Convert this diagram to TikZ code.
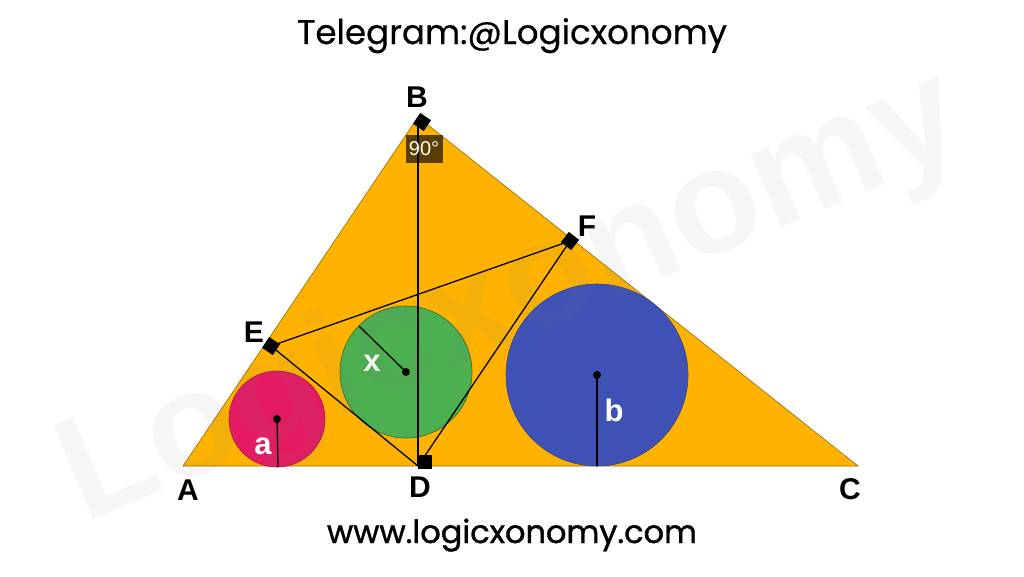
\documentclass[tikz,border=0pt]{standalone}
\usepackage{fontspec}
\setmainfont{Liberation Sans}
\newfontfamily\titrefont{Poppins}[FakeBold=0.5]
\newfontfamily\sitefont{Poppins}[FakeBold=1.2]
\usepackage{xcolor}
\usepackage{tikz}
\usetikzlibrary{calc}
\definecolor{orangeT}{RGB}{255,179,0}
\definecolor{bordT}{RGB}{150,105,0}
\definecolor{roseC}{RGB}{228,27,98}
\definecolor{vertC}{RGB}{76,175,80}
\definecolor{bleuC}{RGB}{63,81,181}
\tikzset{
	sommet/.style={font=\bfseries\fontsize{30}{30}\selectfont,text=black},
	rayon/.style={font=\bfseries\fontsize{31}{31}\selectfont,text=white},
	angdroit/.style={fill=black,inner sep=0pt,minimum size=13pt},
	trait/.style={line width=1.3pt,black},
	cercle/.style={line width=0.6pt}
}

\begin{document}
\begin{tikzpicture}[x=1pt,y=-1pt]
\useasboundingbox (0,0) rectangle (1024,576); % taille de l'image

%Sommets du triangle
\coordinate (A) at (183,466);
\coordinate (B) at (418,117);
\coordinate (C) at (858,466);
\coordinate (D) at (418,466);
%pieds des perpendiculaires
\coordinate (E) at (271,346);
\coordinate (F) at (570,241);

%centres et rayons
\coordinate (Oa) at (277,419);
\coordinate (Ta) at (278,467);
\coordinate (Ox) at (406,372);
\coordinate (Tx) at (359,326);
\coordinate (Ob) at (597,375);
\coordinate (Tb) at (597,466);

%Triangle
\filldraw[fill=orangeT,draw=bordT,line width=0.6pt] (A) -- (B) -- (C) -- cycle;

%Cercles
\filldraw[cercle,fill=roseC,draw=roseC!75!black] (Oa) circle (48);
\filldraw[cercle,fill=vertC,draw=vertC!60!black] (Ox) circle (66);
\filldraw[cercle,fill=bleuC,draw=bleuC!80!black] (Ob) circle (91);

%Segments
\draw[trait] (B) -- (D);
\draw[trait] (E) -- (F);
\draw[trait] (E) -- (D);
\draw[trait] (D) -- (F);

%Rayons
\draw[trait] (Oa) -- (Ta);
\draw[trait] (Ox) -- (Tx);
\draw[trait] (Ob) -- (Tb);
\fill (Oa) circle (4);
\fill (Ox) circle (4);
\fill (Ob) circle (4);

%Angles droits
\node[angdroit,rotate=56] (sqB) at (422,122) {};
\node[angdroit,rotate=56] (sqE) at (E) {};
\node[angdroit,rotate=52] (sqF) at (F) {};
\node[angdroit,minimum size=14pt] (sqD) at (425,462) {};
\node[fill=black,fill opacity=0.65,text opacity=1,text=white,inner sep=0pt,
	minimum width=37pt,minimum height=28pt,font=\fontsize{20}{20}\selectfont] (angB) at (424,149) {90°};

%Noms des points
\node[sommet] (lA) at (188,490) {A};
\node[sommet] (lB) at (417,97) {B};
\node[sommet] (lC) at (850,489) {C};
\node[sommet] (lD) at (420,487) {D};
\node[sommet] (lE) at (254,332) {E};
\node[sommet] (lF) at (587,226) {F};

%Rayons : noms
\node[rayon] (la) at (263,446) {a};
\node[rayon] (lx) at (372,363) {x};
\node[rayon] (lb) at (614,410) {b};

%Textes
\node[anchor=base] (titre) at (512,44) {\resizebox{430pt}{!}{\titrefont Telegram:@Logicxonomy}};
\node[anchor=base] (site) at (512,543) {\resizebox{370pt}{!}{\sitefont www.logicxonomy.com}};

% filigrane
\node[rotate=23,anchor=base west,inner sep=0pt,text=black!50,text opacity=0.075,
	font=\bfseries\fontsize{148}{148}\selectfont] (filigrane) at (84,524) {Logicxonomy};

\end{tikzpicture}
\end{document}
